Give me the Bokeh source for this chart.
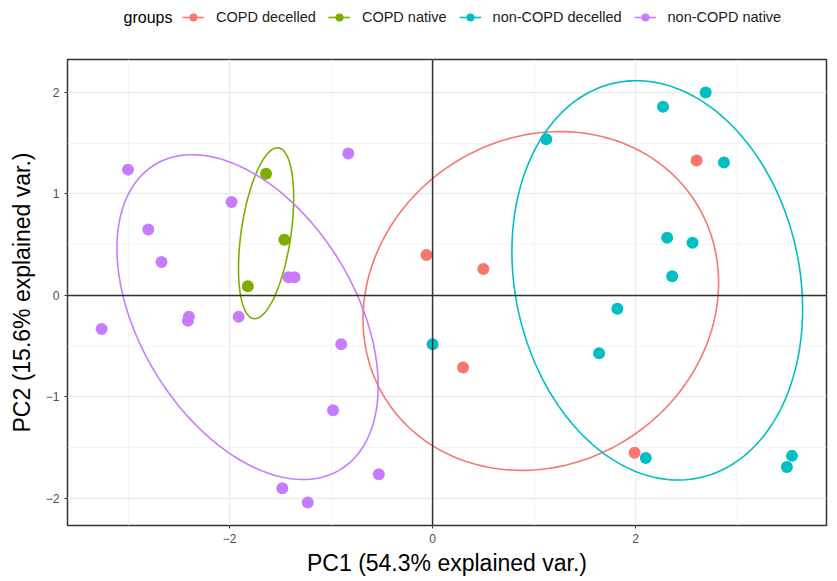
import numpy as np
from bokeh.plotting import figure
from bokeh.layouts import column
from bokeh.models import Legend, LegendItem, Span, FixedTicker, Range1d, Label
from bokeh.embed import file_html
from bokeh.resources import INLINE

groups = ["COPD decelled", "COPD native", "non-COPD decelled", "non-COPD native"]
colors = ["#F8766D", "#7CAE00", "#00BFC4", "#C77CFF"]
legend_title = "groups"

copd_decelled_x = [-0.06, 0.50, 0.30, 2.60, 1.99]
copd_decelled_y = [0.40, 0.26, -0.71, 1.33, -1.55]

copd_native_x = [-1.64, -1.46, -1.82]
copd_native_y = [1.20, 0.55, 0.09]

noncopd_decelled_x = [1.12, 2.27, 2.69, 2.87, 2.31, 2.56, 2.36, 1.82, 1.64, 0.00, 2.10, 3.54, 3.49]
noncopd_decelled_y = [1.54, 1.86, 2.00, 1.31, 0.57, 0.52, 0.19, -0.13, -0.57, -0.48, -1.60, -1.58, -1.69]

noncopd_native_x = [-3.00, -2.80, -2.67, -3.26, -2.40, -2.41, -1.98, -1.91, -1.42, -1.36,
                    -0.83, -0.90, -0.98, -0.53, -1.48, -1.23]
noncopd_native_y = [1.24, 0.65, 0.33, -0.33, -0.21, -0.25, 0.92, -0.21, 0.18, 0.18,
                    1.40, -0.48, -1.13, -1.76, -1.90, -2.04]

x_ticks = [-2, 0, 2]
y_ticks = [-2, -1, 0, 1, 2]

series = [
    (copd_decelled_x, copd_decelled_y),
    (copd_native_x, copd_native_y),
    (noncopd_decelled_x, noncopd_decelled_y),
    (noncopd_native_x, noncopd_native_y),
]

FONT = "Liberation Sans"
W = 830
LEG_H = 35

# ---------------- main plot ----------------
p = figure(width=W, height=578 - LEG_H, output_backend="svg", toolbar_location=None,
           x_range=Range1d(-3.596, 3.88), y_range=Range1d(-2.266, 2.325),
           min_border_left=67, min_border_right=4, min_border_bottom=53,
           min_border_top=59 - LEG_H)

p.background_fill_color = "white"
p.outline_line_color = "#333333"
p.outline_line_width = 1.5

p.xaxis.ticker = FixedTicker(ticks=x_ticks, minor_ticks=[-3, -1, 1, 3])
p.yaxis.ticker = FixedTicker(ticks=y_ticks, minor_ticks=[-1.5, -0.5, 0.5, 1.5])
for g in (p.xgrid, p.ygrid):
    g.grid_line_color = "#EBEBEB"
    g.grid_line_width = 1.3
    g.minor_grid_line_color = "#F2F2F2"
    g.minor_grid_line_width = 0.8

for ax in (p.xaxis, p.yaxis):
    ax.axis_line_color = None
    ax.major_tick_line_color = "#333333"
    ax.major_tick_in = 0
    ax.major_tick_out = 3
    ax.minor_tick_line_color = None
    ax.major_label_text_color = "#4D4D4D"
    ax.major_label_text_font = FONT
    ax.major_label_text_font_size = "12px"
    ax.axis_label_text_font = FONT
    ax.axis_label_text_font_size = "23px"
    ax.axis_label_text_font_style = "normal"
    ax.axis_label_text_color = "black"

p.xaxis.axis_label = "PC1 (54.3% explained var.)"
p.yaxis.axis_label = "PC2 (15.6% explained var.)"
p.xaxis.major_label_standoff = 4
p.yaxis.major_label_standoff = 4
p.xaxis.axis_label_standoff = 4
p.yaxis.axis_label_standoff = 8

p.add_layout(Span(location=0, dimension="width", line_color="#333333", line_width=1.5))
p.add_layout(Span(location=0, dimension="height", line_color="#333333", line_width=1.5))

# ellipses (ggbiplot style, prob 0.68)
theta = np.linspace(-np.pi, np.pi, 200)
circle = np.column_stack([np.cos(theta), np.sin(theta)])
ed = np.sqrt(-2 * np.log(1 - 0.68))

for (xs, ys), name, col in zip(series, groups, colors):
    xa = np.array(xs); ya = np.array(ys)
    sigma = np.cov(np.vstack([xa, ya]))
    L = np.linalg.cholesky(sigma)
    ell = ed * circle @ L.T + np.array([xa.mean(), ya.mean()])
    p.line(ell[:, 0], ell[:, 1], line_color=col, line_width=1.6)

for (xs, ys), name, col in zip(series, groups, colors):
    p.scatter(xs, ys, size=12, fill_color=col, line_color=col, line_width=0)

# ---------------- legend strip ----------------
lg = figure(width=W, height=LEG_H, output_backend="svg", toolbar_location=None,
            x_axis_type=None, y_axis_type=None,
            x_range=Range1d(0, 1), y_range=Range1d(0, 1), min_border=0)
lg.outline_line_color = None
lg.xgrid.visible = False
lg.ygrid.visible = False

legend_items = []
for name, col in zip(groups, colors):
    # key-only renderers, placed outside the visible range of the strip
    lr = lg.line(x=[-10, -9], y=[-10, -10], line_color=col, line_width=1.6)
    sr = lg.scatter(x=[-10], y=[-10], size=12, fill_color=col, line_color=col, line_width=0)
    legend_items.append(LegendItem(label=name, renderers=[lr, sr]))

legend = Legend(items=legend_items, orientation="horizontal", location=(115, 8),
                label_text_font=FONT, label_text_font_size="14.5px", label_text_color="#1A1A1A",
                border_line_color=None, background_fill_alpha=0,
                glyph_width=22, glyph_height=20, label_standoff=12, spacing=12,
                padding=0, margin=0)
lg.add_layout(legend, "center")

lg.add_layout(Label(x=105, y=18, x_units="screen", y_units="screen", text=legend_title,
                    text_font=FONT, text_font_size="16px", text_color="black",
                    text_align="right", text_baseline="middle"))

layout = column(lg, p, spacing=0)
open("out.html", "w").write(file_html(layout, INLINE))
